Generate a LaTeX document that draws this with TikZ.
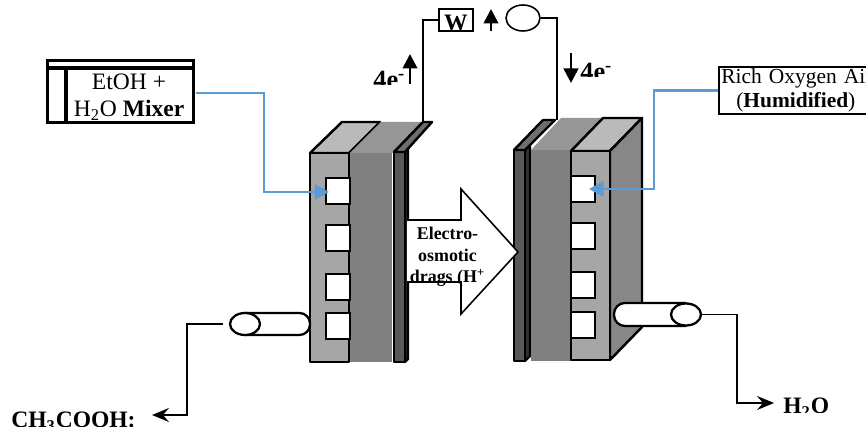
\documentclass[tikz,border=0pt]{standalone}
\usepackage{fontspec}
\setmainfont{Liberation Serif}
\usetikzlibrary{arrows.meta,shapes.geometric}
\definecolor{feedblue}{RGB}{91,155,213}

\begin{document}
\begin{tikzpicture}[x=0.02cm,y=-0.02cm,
  plate/.style={draw=black,line width=1.4pt,line join=round},
  slot/.style={draw=black,line width=1.3pt,fill=white,minimum width=0.48cm,
               minimum height=0.52cm,inner sep=0pt},
  port/.style={ellipse,draw=black,line width=1.3pt,fill=white,minimum width=0.6cm,
               minimum height=0.44cm,inner sep=0pt},
  tube/.style={draw=black,line width=1.3pt,fill=white,rounded corners=6pt},
  wire/.style={draw=black,line width=0.85pt},
  outlet/.style={wire,-{Stealth[length=3.4mm,width=2.8mm,inset=1.2mm]}},
  feed/.style={draw=feedblue,line width=1.6pt,-{Triangle[length=2.9mm,width=3.1mm]}},
  flow/.style={draw=black,line width=1.5pt,-{Triangle[length=2.9mm,width=2.9mm]}},
  tag/.style={font=\fontsize{15}{15}\selectfont\bfseries,anchor=base west,inner sep=0pt},
  stream/.style={font=\fontsize{13.4}{15}\selectfont\bfseries,anchor=base west,inner sep=0pt}
]
\clip (0,0) rectangle (866,431);

\draw[plate,fill=black!27] (310,153)--(342,122)--(380,122)--(349,153)--cycle;
\fill[black!41] (350,153)--(381,122)--(423,122)--(394,153)--cycle;
\fill[black!50] (350,153) rectangle (392,362);
\draw[plate,fill=black!35] (310,153) rectangle (349,362);
\draw[plate,fill=black!80] (405,152)--(408,149)--(408,359)--(405,362)--cycle;
\draw[plate,fill=black!65] (394,152) rectangle (405,362);
\draw[plate,fill=black!57] (394,152)--(423,122)--(432,122)--(405,152)--cycle;
\node[slot] (inA) at (338,191) {};
\node[slot] (inB) at (338,238) {};
\node[slot] (inC) at (338,287) {};
\node[slot] (inD) at (338,326) {};

\draw[plate,fill=black!80] (525,150)--(530,145)--(530,356)--(525,361)--cycle;
\draw[plate,fill=black!65] (514,150) rectangle (525,361);
\draw[plate,fill=black!57] (514,150)--(543,120)--(555,120)--(525,150)--cycle;
\fill[black!41] (531,150)--(561,118)--(603,118)--(571,150)--cycle;
\fill[black!50] (531,150) rectangle (571,361);
\draw[plate,fill=black!27] (571,151)--(603,118)--(642,118)--(610,151)--cycle;
\draw[plate,fill=black!47] (610,151)--(642,118)--(642,327)--(610,360)--cycle;
\draw[plate,fill=black!35] (571,151) rectangle (610,360);
\node[slot] (outA) at (583,189) {};
\node[slot] (outB) at (583,236) {};
\node[slot] (outC) at (583,285) {};
\node[slot] (outD) at (583,325) {};

\draw[tube] (245,313) -- (310,313) -- (310,335) -- (245,335);
\node[port] (drainL) at (245,324) {};
\draw[tube,rounded corners=6.2pt] (686,303) -- (614,303) -- (614,326) -- (686,326);
\node[port] (drainR) at (686,314.5) {};

\draw[line width=0.9pt,fill=white,line join=miter]
  (407,220)--(461,220)--(461,189)--(518,252)--(461,314)--(461,282)--(407,282);
\node[font=\fontsize{10.2}{12.2}\selectfont\bfseries,align=center,inner sep=0pt] (drag)
  at (447.5,257) {Electro-\\osmotic\\drags (H\textsuperscript{+}};

\node[draw=black,line width=1.7pt,minimum width=2.94cm,minimum height=1.24cm,inner sep=0pt] (mixer)
  at (120.5,91.5) {};
\draw[line width=2.2pt] (47,68) -- (194,68);
\draw[line width=2pt] (66,68) -- (66,122);
\node[font=\fontsize{13.4}{15.4}\selectfont,align=center,inner sep=0pt] (mixertext)
  at (129,97) {EtOH +\\H\textsubscript{2}O \textbf{Mixer}};

\node[draw=black,line width=0.9pt,anchor=west,minimum width=3.2cm,minimum height=0.94cm,
      inner sep=0pt,text width=3.1cm,align=left,font=\fontsize{12.2}{14}\selectfont] (air)
  at (718,90.5) {Rich Oxygen Air\\\hspace*{0.3cm}(\textbf{Humidified})};

\coordinate (fuelbend) at (264,192);
\coordinate (fueltip) at (329,192);
\coordinate (airbend) at (654,189);
\coordinate (airtip) at (589,189);
\draw[feed] (196,93) -- (264,93) -- (fuelbend) -- (fueltip);
\draw[feed] (air.west) -| (airbend) -- (airtip);

\node[font=\fontsize{13.4}{15}\selectfont\bfseries,anchor=base,inner sep=0pt] (loadtext) at (456,31) {W};
\node[draw=black,line width=1pt,minimum width=0.68cm,minimum height=0.44cm,inner sep=0pt] (load) at (456,20) {};
\node[ellipse,draw=black,line width=0.9pt,minimum width=0.68cm,minimum height=0.52cm,inner sep=0pt] (source) at (523,18) {};
\coordinate (anodetab) at (423,122);
\coordinate (cathodetab) at (557,120);
\draw[wire] (anodetab) |- (load.west);
\draw[wire] (source.east) -| (cathodetab);

\coordinate (upS) at (410,84);
\coordinate (upE) at (410,54);
\coordinate (downS) at (571,53);
\coordinate (downE) at (571,83);
\coordinate (midS) at (491,31);
\coordinate (midE) at (491,9);
\draw[flow] (upS) -- (upE);
\draw[flow] (downS) -- (downE);
\draw[flow] (midS) -- (midE);

\begin{scope}
  \clip (360,60) rectangle (409,85);
  \node[tag] (chargeL) at (373,88.5) {4e\textsuperscript{-}};
\end{scope}
\begin{scope}
  \clip (575,55) rectangle (625,77);
  \node[tag] (chargeR) at (580,80.5) {4e\textsuperscript{-}};
\end{scope}

\coordinate (acidbend) at (187,415);
\coordinate (acidtip) at (152,415);
\coordinate (waterbend) at (737,403);
\coordinate (watertip) at (774,403);
\draw[outlet,shorten <=12.5pt] (drainL.center) -| (acidbend) -- (acidtip);
\draw[outlet] (drainR.east) -| (waterbend) -- (watertip);

\begin{scope}
  \clip (0,405) rectangle (145,427);
  \node[stream] (acid) at (11,428) {CH\textsubscript{3}COOH:};
\end{scope}
\begin{scope}
  \clip (775,390) rectangle (840,413);
  \node[stream] (water) at (783,414) {H\textsubscript{2}O};
\end{scope}
\end{tikzpicture}
\end{document}
